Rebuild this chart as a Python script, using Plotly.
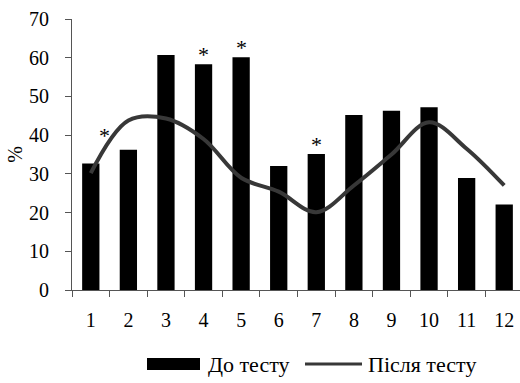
import plotly.graph_objects as go

categories = ["1", "2", "3", "4", "5", "6", "7", "8", "9", "10", "11", "12"]
before_test = [32.7, 36.2, 60.7, 58.3, 60.1, 32.0, 35.1, 45.2, 46.3, 47.2, 28.9, 22.1]
after_test = [30.2, 43.8, 44.3, 39.0, 29.0, 25.4, 20.1, 27.0, 35.0, 43.3, 36.5, 27.0]
stars = ["*", "", "", "*", "*", "", "*", "", "", "", "", ""]
y_ticks = [0, 10, 20, 30, 40, 50, 60, 70]
legend_names = ["До тесту", "Після тесту"]

FONT = "Liberation Serif, Times New Roman, serif"
BAR_COLOR = "#000000"
LINE_COLOR = "#383838"

W, H = 520, 383
ML, MR, MT, MB = 72, 0, 19, 93
PW, PH = W - ML - MR, H - MT - MB


def px_x(px):
    return (px - ML) / PW


def px_y(py):
    return (H - MB - py) / PH


fig = go.Figure()
fig.add_trace(go.Bar(
    x=categories, y=before_test, name=legend_names[0],
    marker=dict(color=BAR_COLOR, line=dict(width=0)), width=0.46,
))
fig.add_trace(go.Scatter(
    x=categories, y=after_test, name=legend_names[1], mode="lines",
    line=dict(color=LINE_COLOR, width=4, shape="spline", smoothing=1.0),
))

for i, s in enumerate(stars):
    if not s:
        continue
    if i == 0:
        yv = max(before_test[i], after_test[i]) + 4.5
        xs = 14
    else:
        yv = before_test[i]
        xs = 0
    fig.add_annotation(
        x=i, y=yv, xref="x", yref="y", text=s, showarrow=False,
        xshift=xs, yshift=10, yanchor="middle",
        font=dict(family=FONT, size=22, color="#000"),
    )

# custom legend (wide bar swatch as in the reference)
ly = 364
fig.add_shape(type="rect", xref="paper", yref="paper",
              x0=px_x(147), x1=px_x(200), y0=px_y(370), y1=px_y(358),
              fillcolor=BAR_COLOR, line=dict(width=0))
fig.add_annotation(xref="paper", yref="paper", x=px_x(206), y=px_y(ly),
                   text=legend_names[0], showarrow=False, xanchor="left",
                   yanchor="middle", font=dict(family=FONT, size=22, color="#000"))
fig.add_shape(type="line", xref="paper", yref="paper",
              x0=px_x(305), x1=px_x(362), y0=px_y(ly), y1=px_y(ly),
              line=dict(color=LINE_COLOR, width=3))
fig.add_annotation(xref="paper", yref="paper", x=px_x(366), y=px_y(ly),
                   text=legend_names[1], showarrow=False, xanchor="left",
                   yanchor="middle", font=dict(family=FONT, size=22, color="#000"))

fig.update_layout(
    width=W, height=H,
    margin=dict(l=ML, r=MR, t=MT, b=MB),
    paper_bgcolor="white", plot_bgcolor="white",
    font=dict(family=FONT, size=20, color="#000"),
    showlegend=False,
    bargap=0.5,
)
fig.update_xaxes(
    type="category", range=[-0.5, 11.42], automargin=False,
    showline=True, linecolor="#555", linewidth=1,
    ticks="outside", tickson="boundaries", ticklen=6, tickcolor="#555",
    showgrid=False, zeroline=False,
    tickfont=dict(family=FONT, size=20, color="#000"),
    ticklabelstandoff=12,
)
fig.update_yaxes(
    range=[0, 70], tickvals=y_ticks, automargin=False,
    showline=True, linecolor="#555", linewidth=1,
    ticks="outside", ticklen=6, tickcolor="#555",
    showgrid=False, zeroline=False,
    tickfont=dict(family=FONT, size=20, color="#000"),
    ticklabelstandoff=12,
    title=dict(text="%", font=dict(family=FONT, size=20, color="#000"), standoff=1),
)

fig.write_html(
    "out.html",
    config={"displayModeBar": False},
    post_script="document.body.style.margin='0';document.body.style.overflow='hidden';",
)
